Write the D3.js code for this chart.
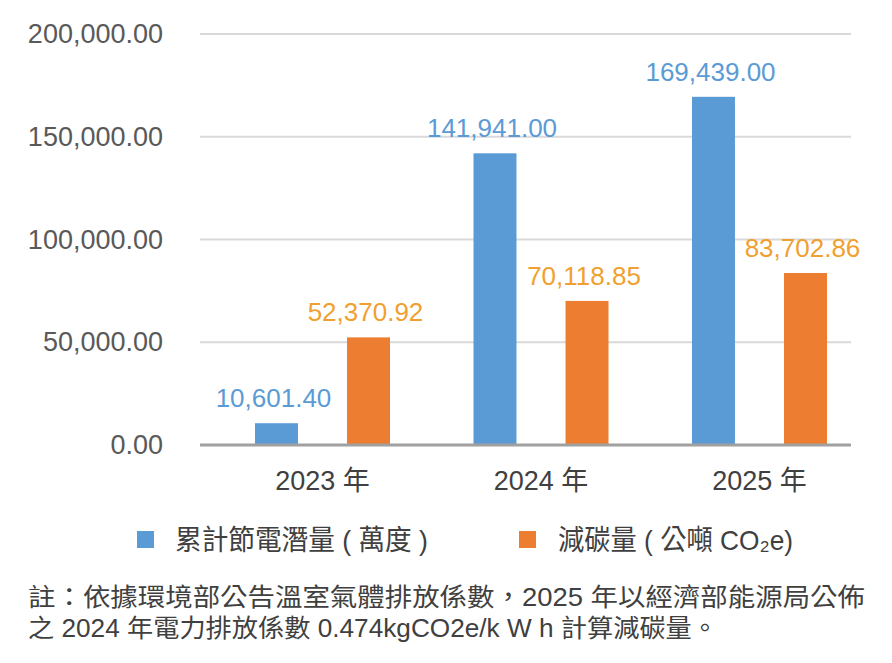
<!DOCTYPE html>
<html>
<head>
<meta charset="utf-8">
<script src="https://cdn.jsdelivr.net/npm/d3@7"></script>
<style>
  html, body { margin: 0; padding: 0; background: #fff; }
  svg { display: block; }
  text { font-family: "Liberation Sans", Arial, "Noto Sans CJK TC", sans-serif; }
</style>
</head>
<body>
<svg id="chart" width="892" height="663"></svg>
<script>
// ---- data ----
const categories = ["2023 年", "2024 年", "2025 年"];
const seriesNames = ["累計節電潛量 ( 萬度 )", "減碳量 ( 公噸 CO₂e)"];
const savingsValues = [10601.40, 141941.00, 169439.00];   // 累計節電潛量 (萬度)
const carbonValues  = [52370.92, 70118.85, 83702.86];     // 減碳量 (公噸 CO2e)
const yTicks = [0, 50000, 100000, 150000, 200000];
const noteLines = [
  "註：依據環境部公告溫室氣體排放係數，2025 年以經濟部能源局公佈",
  "之 2024 年電力排放係數 0.474kgCO2e/k W h 計算減碳量。"
];

// ---- styles ----
const colors = ["#5B9BD5", "#ED7D31"];
const labelColors = ["#5B9BD5", "#F0A030"];

const svg = d3.select("#chart");

const y = d3.scaleLinear().domain([0, 200000]).range([445, 34]);
const x0 = d3.scaleBand().domain(categories).range([213.25, 868.75])
  .paddingInner(0.3822).paddingOuter(0.1911);
const x1 = d3.scaleBand().domain([0, 1]).range([0, x0.bandwidth()]).paddingInner(0.533);

const plotLeft = 200, plotRight = 851;

// gridlines
svg.append("g").selectAll("line")
  .data(yTicks.filter(d => d > 0))
  .join("line")
  .attr("x1", plotLeft).attr("x2", plotRight)
  .attr("y1", d => y(d)).attr("y2", d => y(d))
  .attr("stroke", "#D9D9D9").attr("stroke-width", 2);

// y axis labels
const yAxis = d3.axisLeft(y).tickValues(yTicks).tickSize(0).tickPadding(0)
  .tickFormat(d3.format(",.2f"));
const yg = svg.append("g").attr("transform", "translate(163,0)").call(yAxis);
yg.select(".domain").remove();
yg.selectAll("text").attr("font-size", 27).attr("fill", "#595959")
  .attr("font-family", '"Liberation Sans", Arial, sans-serif');

// bars
const rows = categories.map((c, i) => ({ cat: c, vals: [savingsValues[i], carbonValues[i]] }));
const groups = svg.append("g").selectAll("g")
  .data(rows).join("g")
  .attr("transform", d => `translate(${x0(d.cat)},0)`);

groups.selectAll("rect")
  .data(d => d.vals.map((v, s) => ({ v, s })))
  .join("rect")
  .attr("x", d => x1(d.s))
  .attr("width", x1.bandwidth())
  .attr("y", d => y(d.v))
  .attr("height", d => y(0) - y(d.v))
  .attr("fill", d => colors[d.s]);

// data labels
groups.selectAll("text.lbl")
  .data(d => d.vals.map((v, s) => ({ v, s })))
  .join("text")
  .attr("class", "lbl")
  .attr("x", d => x1(d.s) + x1.bandwidth() / 2 - 3)
  .attr("y", d => y(d.v) - 16)
  .attr("text-anchor", "middle")
  .attr("font-size", 26)
  .attr("fill", d => labelColors[d.s])
  .text(d => d3.format(",.2f")(d.v));

// x axis line
svg.append("line")
  .attr("x1", plotLeft).attr("x2", plotRight)
  .attr("y1", y(0)).attr("y2", y(0))
  .attr("stroke", "#A0A0A0").attr("stroke-width", 3);

// x axis labels
const xAxis = d3.axisBottom(x0).tickSize(0).tickPadding(0);
const xg = svg.append("g").attr("transform", `translate(0,${y(0) + 45})`).call(xAxis);
xg.select(".domain").remove();
xg.selectAll("text").attr("font-size", 27).attr("fill", "#404040")
  .attr("dy", 0)
  .attr("font-family", '"Liberation Sans", Arial, "Noto Sans CJK TC", sans-serif');

// legend
const lg = svg.append("g");
const legendX = [{ sq: 137, tx: 175, w: 253 }, { sq: 519, tx: 558, w: 235 }];
lg.selectAll("rect").data(seriesNames).join("rect")
  .attr("x", (d, i) => legendX[i].sq).attr("y", 531)
  .attr("width", 17).attr("height", 17)
  .attr("fill", (d, i) => colors[i]);
lg.selectAll("text").data(seriesNames).join("text")
  .attr("x", (d, i) => legendX[i].tx).attr("y", 550)
  .attr("font-size", 28).attr("fill", "#404040")
  .attr("textLength", (d, i) => legendX[i].w).attr("lengthAdjust", "spacingAndGlyphs")
  .text(d => d);

// note
const noteWidths = [837, 690];
svg.append("g").selectAll("text")
  .data(noteLines).join("text")
  .attr("x", 28)
  .attr("y", (d, i) => 606 + i * 31)
  .attr("font-size", 25)
  .attr("fill", "#404040")
  .attr("font-family", '"Liberation Sans", Arial, "Noto Sans CJK TC", sans-serif')
  .attr("textLength", (d, i) => noteWidths[i])
  .attr("lengthAdjust", "spacingAndGlyphs")
  .text(d => d);
</script>
</body>
</html>
